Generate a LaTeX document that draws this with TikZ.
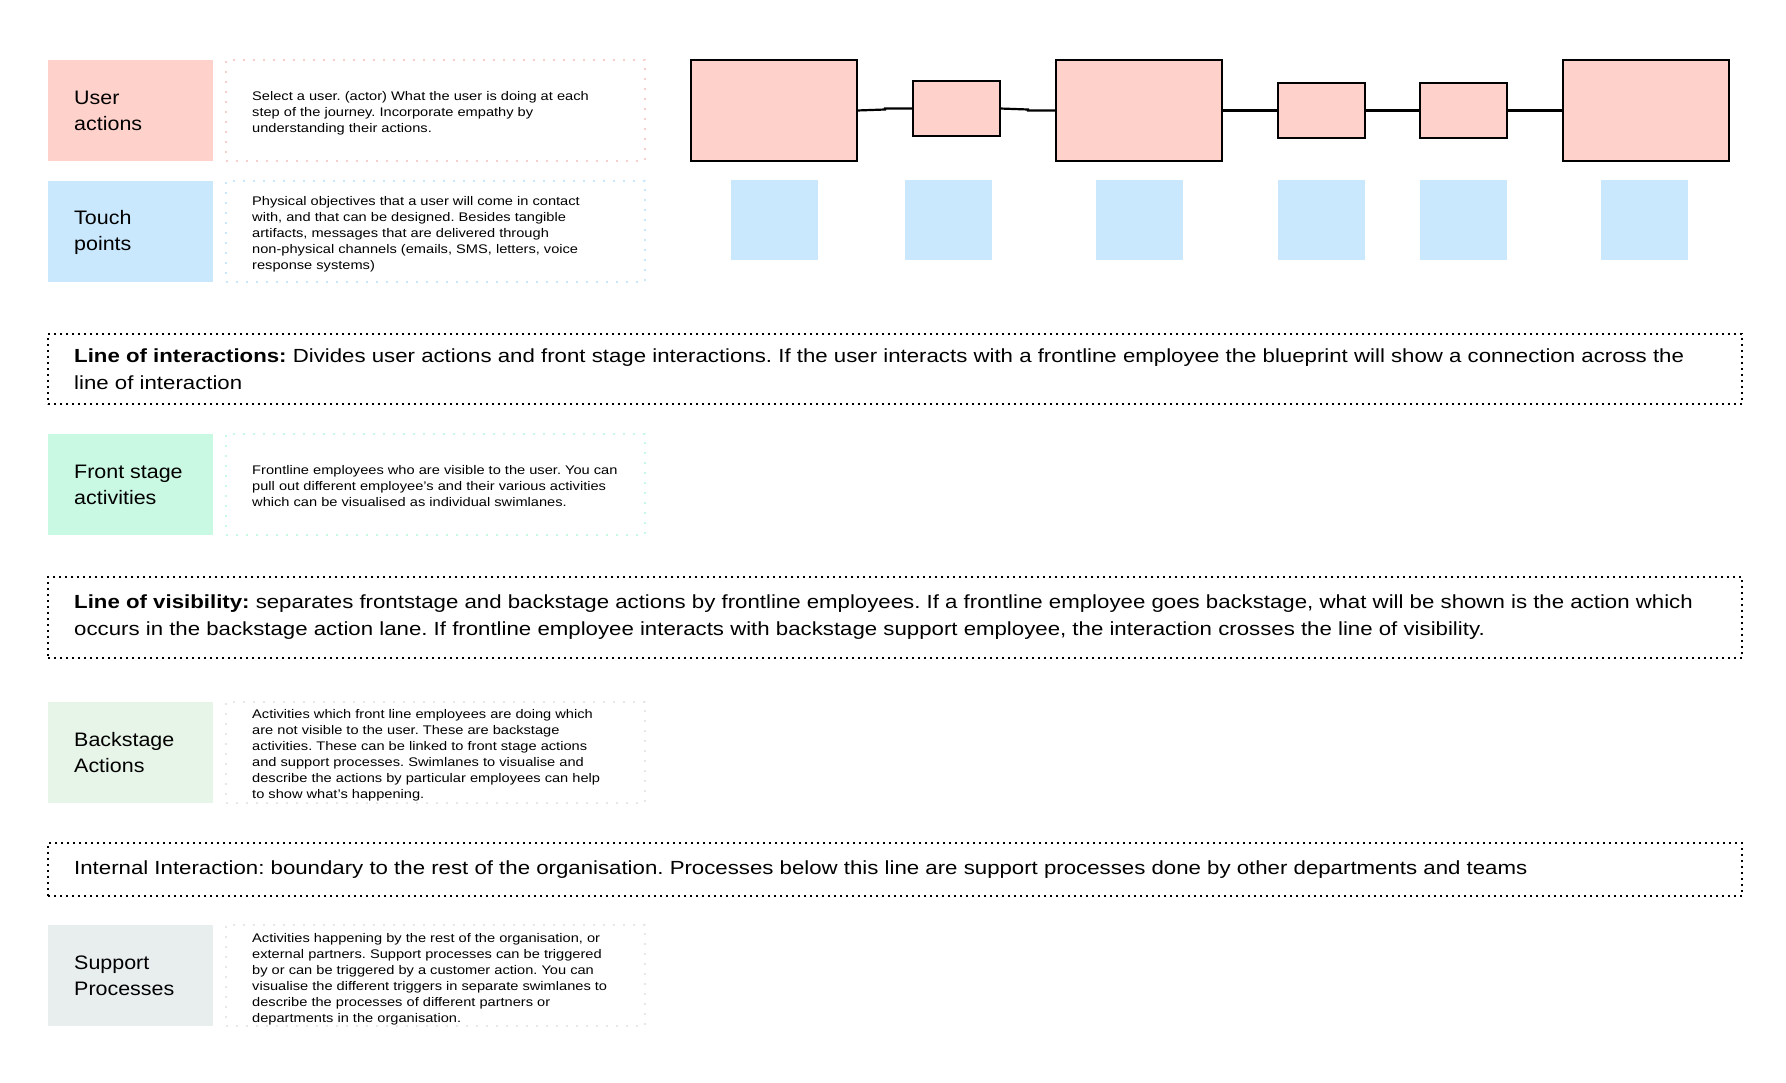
\documentclass[tikz,border=0pt]{standalone}
\usepackage{fontspec}
\setmainfont{Liberation Sans}[FakeStretch=1.17]
\newfontfamily\lblfont{Liberation Sans}[FakeStretch=1.1]
\usetikzlibrary{calc}
\definecolor{uapink}{HTML}{FFD1CB}
\definecolor{tpblue}{HTML}{C9E8FD}
\definecolor{fsmint}{HTML}{C9F8E3}
\definecolor{bsgreen}{HTML}{E7F4E8}
\definecolor{spgrey}{HTML}{E8EDED}
\definecolor{dotpink}{HTML}{F8CFCB}
\definecolor{dotgrey}{HTML}{E4E9E7}
\tikzset{
  lbl/.style={anchor=north west, inner sep=0, outer sep=0, minimum width=165pt, minimum height=101pt},
  lbltext/.style={anchor=west, align=left, font=\lblfont\fontsize{19.5}{26}\selectfont, inner sep=0},
  desc/.style={anchor=north west, inner sep=0, outer sep=0, minimum width=419pt, minimum height=101pt, dash pattern=on 2pt off 8pt, line width=2pt},
  desctext/.style={anchor=west, align=left, font=\fontsize{12.5}{16}\selectfont, inner sep=0},
  linebox/.style={draw=black, dash pattern=on 1.6pt off 4.4pt, line width=1.6pt, anchor=north west, inner sep=0, outer sep=0, minimum width=1694pt},
  linetext/.style={anchor=west, align=left, font=\fontsize{19}{27}\selectfont, inner sep=0},
  flowbox/.style={draw=black, line width=2.5pt, fill=uapink, inner sep=0, outer sep=0, anchor=north west},
  bigflow/.style={flowbox, minimum width=166pt, minimum height=101pt},
  smallflow/.style={flowbox, minimum width=87pt, minimum height=55pt},
  tp/.style={fill=tpblue, inner sep=0, outer sep=0, anchor=north west, minimum width=87pt, minimum height=80pt},
  conn/.style={draw=black, line width=2.2pt}
}
\begin{document}
\frenchspacing
\begin{tikzpicture}[x=1pt,y=-1pt]
\useasboundingbox (0,0) rectangle (1786,1082);
% rows: labels
\node[lbl, fill=uapink] (ua) at (48,60) {};
\node[lbltext] (uat) at ($(ua.west)+(26,0)$) {User\\actions};
\node[desc, draw=dotpink] (uad) at (226,60) {};
\node[desctext] (uadt) at ($(uad.west)+(26,2.5)$) {Select a user. (actor) What the user is doing at each\\step of the journey. Incorporate empathy by\\understanding their actions.};

\node[lbl, fill=tpblue] (tp) at (48,181) {};
\node[lbltext] (tpt) at ($(tp.west)+(26,1)$) {Touch\\points};
\node[desc, draw=tpblue] (tpd) at (226,181) {};
\node[desctext] (tpdt) at ($(tpd.west)+(26,2.5)$) {Physical objectives that a user will come in contact\\with, and that can be designed. Besides tangible\\artifacts, messages that are delivered through\\non-physical channels (emails, SMS, letters, voice\\response systems)};

\node[linebox, minimum height=70pt] (loi) at (48,334) {};
\node[linetext] (loit) at ($(loi.west)+(26,0)$) {\textbf{Line of interactions:} Divides user actions and front stage interactions. If the user interacts with a frontline employee the blueprint will show a connection across the\\line of interaction};

\node[lbl, fill=fsmint] (fs) at (48,434) {};
\node[lbltext] (fst) at ($(fs.west)+(26,0)$) {Front stage\\activities};
\node[desc, draw=fsmint] (fsd) at (226,434) {};
\node[desctext] (fsdt) at ($(fsd.west)+(26,2)$) {Frontline employees who are visible to the user. You can\\pull out different employee’s and their various activities\\which can be visualised as individual swimlanes.};

\node[linebox, minimum height=81pt] (lov) at (48,577) {};
\node[linetext] (lovt) at ($(lov.west)+(26,0)$) {\textbf{Line of visibility:} separates frontstage and backstage actions by frontline employees. If a frontline employee goes backstage, what will be shown is the action which\\occurs in the backstage action lane. If frontline employee interacts with backstage support employee, the interaction crosses the line of visibility.};

\node[lbl, fill=bsgreen] (bs) at (48,702) {};
\node[lbltext] (bst) at ($(bs.west)+(26,0)$) {Backstage\\Actions};
\node[desc, draw=dotgrey] (bsd) at (226,702) {};
\node[desctext] (bsdt) at ($(bsd.west)+(26,2.5)$) {Activities which front line employees are doing which\\are not visible to the user. These are backstage\\activities. These can be linked to front stage actions\\and support processes. Swimlanes to visualise and\\describe the actions by particular employees can help\\to show what’s happening.};

\node[linebox, minimum height=53pt] (ii) at (48,843) {};
\node[linetext] (iit) at ($(ii.west)+(26,0)$) {Internal Interaction: boundary to the rest of the organisation. Processes below this line are support processes done by other departments and teams};

\node[lbl, fill=spgrey] (sp) at (48,925) {};
\node[lbltext] (spt) at ($(sp.west)+(26,0)$) {Support\\Processes};
\node[desc, draw=dotgrey] (spd) at (226,925) {};
\node[desctext] (spdt) at ($(spd.west)+(26,4)$) {Activities happening by the rest of the organisation, or\\external partners. Support processes can be triggered\\by or can be triggered by a customer action. You can\\visualise the different triggers in separate swimlanes to\\describe the processes of different partners or\\departments in the organisation.};

% flow boxes
\node[bigflow] (b1) at (691,60) {};
\node[smallflow] (b2) at (913,81) {};
\node[bigflow] (b3) at (1056,60) {};
\node[smallflow] (b4) at (1278,83) {};
\node[smallflow] (b5) at (1420,83) {};
\node[bigflow] (b6) at (1563,60) {};

\draw[conn] (b1.east) -- ($(b1.east)!0.5!(b2.west)$ |- b1.east) |- (b2.west);
\draw[conn] (b2.east) -- ($(b2.east)!0.5!(b3.west)$ |- b2.east) |- (b3.west);
\draw[conn] (b3.east) -- (b4.west);
\draw[conn] (b4.east) -- (b5.west);
\draw[conn] (b5.east) -- (b6.west);

% touch points
\node[tp] (t1) at (731,180) {};
\node[tp] (t2) at (905,180) {};
\node[tp] (t3) at (1096,180) {};
\node[tp] (t4) at (1278,180) {};
\node[tp] (t5) at (1420,180) {};
\node[tp] (t6) at (1601,180) {};
\end{tikzpicture}
\end{document}
